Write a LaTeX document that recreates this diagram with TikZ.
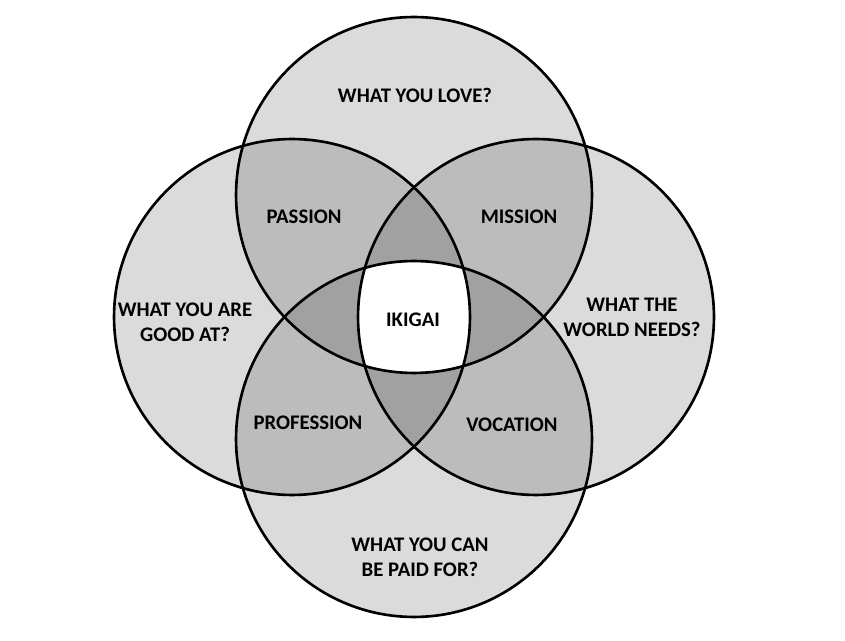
\documentclass[tikz,border=0pt]{standalone}
\usepackage{fontspec}
\setmainfont{Carlito}
\usetikzlibrary{positioning}
\tikzset{
  ring/.style={draw=black, line width=1.5pt},
  shade/.style={fill=black, fill opacity=0.14},
  lbl/.style={font=\bfseries\fontsize{11.8}{14.2}\selectfont, align=center, text=black}
}
\def\rad{3.56cm}

\begin{document}
\begin{tikzpicture}[x=0.02cm, y=-0.02cm]
  \useasboundingbox (0,0) rectangle (845,641);
  \coordinate (love) at (414,195);
  \coordinate (good) at (292,317);
  \coordinate (world) at (536,317);
  \coordinate (paid) at (414,439);

  % shading adds up where circles overlap
  \foreach \ctr in {love,good,world,paid}
    \fill[shade] (\ctr) circle[radius=\rad];
  \begin{scope}
    \clip (love) circle[radius=\rad];
    \clip (good) circle[radius=\rad];
    \clip (world) circle[radius=\rad];
    \fill[white] (paid) circle[radius=\rad];
  \end{scope}
  \foreach \ctr in {love,good,world,paid}
    \draw[ring] (\ctr) circle[radius=\rad];

  \node[lbl] (whatlove) at (415,95) {WHAT YOU LOVE?};
  \node[lbl] (whatgood) at (185,322) {WHAT YOU ARE\\GOOD AT?};
  \node[lbl] (whatworld) at (632,317) {WHAT THE\\WORLD NEEDS?};
  \node[lbl] (whatpaid) at (420,557) {WHAT YOU CAN\\BE PAID FOR?};
  \node[lbl] (passion) at (304,217) {PASSION};
  \node[lbl] (mission) at (519,217) {MISSION};
  \node[lbl] (profession) at (308,423) {PROFESSION};
  \node[lbl] (vocation) at (512,425) {VOCATION};
  \node[lbl] (ikigai) at (413,320) {IKIGAI};
\end{tikzpicture}
\end{document}
